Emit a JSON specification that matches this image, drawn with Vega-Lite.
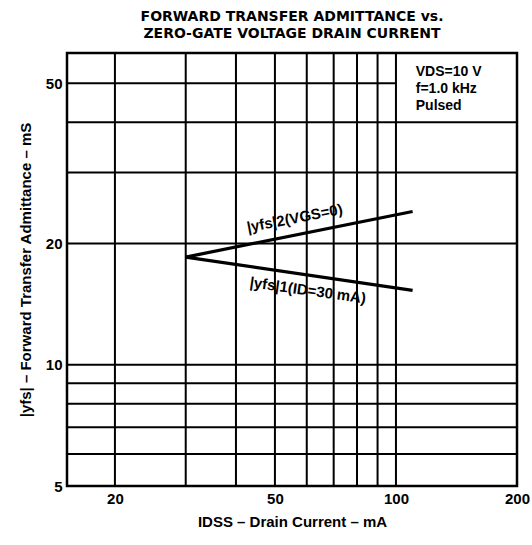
{
  "$schema": "https://vega.github.io/schema/vega-lite/v6.json",
  "autosize": "none",
  "width": 450,
  "height": 433,
  "padding": {"left": 67, "top": 53, "right": 15, "bottom": 59},
  "background": "white",
  "config": {
    "view": {"stroke": "black", "strokeWidth": 2.5},
    "font": "Liberation Sans"
  },
  "title": {
    "text": ["FORWARD TRANSFER ADMITTANCE vs.", "ZERO-GATE VOLTAGE DRAIN CURRENT"],
    "font": "DejaVu Sans",
    "fontSize": 14,
    "fontWeight": "bold",
    "lineHeight": 17,
    "anchor": "middle",
    "offset": 11,
    "color": "black"
  },
  "datasets": {
    "vgrid": [{"x": 20}, {"x": 30}, {"x": 40}, {"x": 50}, {"x": 60}, {"x": 70}, {"x": 80}, {"x": 90}, {"x": 100}],
    "hgrid": [{"y": 6}, {"y": 7}, {"y": 8}, {"y": 9}, {"y": 10}, {"y": 20}, {"y": 30}, {"y": 40}],
    "hshort": [{"y": 50, "x": 15.2, "x2": 100}],
    "curves": [
      {"series": "yfs2", "x": 30, "y": 18.5},
      {"series": "yfs2", "x": 110, "y": 24},
      {"series": "yfs1", "x": 30, "y": 18.5},
      {"series": "yfs1", "x": 110, "y": 15.3}
    ],
    "lab2": [{"x": 56, "y": 23.1, "text": "|yfs|2(VGS=0)"}],
    "lab1": [{"x": 60.4, "y": 15.3, "text": "|yfs|1(ID=30 mA)"}],
    "cond": [{"x": 112, "y": 55.6, "text": "VDS=10 V|f=1.0 kHz|Pulsed"}]
  },
  "layer": [
    {
      "data": {"name": "vgrid"},
      "mark": {"type": "rule", "color": "black", "strokeWidth": 2},
      "encoding": {
        "x": {
          "field": "x", "type": "quantitative",
          "scale": {"type": "log", "domain": [15.2, 200], "nice": false},
          "axis": {
            "values": [20, 50, 100, 200],
            "title": "IDSS – Drain Current – mA",
            "grid": false, "ticks": false, "domain": false,
            "labelFontSize": 15, "labelFontWeight": "bold", "labelColor": "black",
            "labelPadding": 5, "labelFlush": false,
            "titleFontSize": 15, "titleFontWeight": "bold", "titleColor": "black",
            "titlePadding": 8
          }
        }
      }
    },
    {
      "data": {"name": "hgrid"},
      "mark": {"type": "rule", "color": "black", "strokeWidth": 2},
      "encoding": {
        "y": {
          "field": "y", "type": "quantitative",
          "scale": {"type": "log", "domain": [5, 59.4], "nice": false},
          "axis": {
            "values": [5, 10, 20, 50],
            "title": "|yfs| – Forward Transfer Admittance – mS",
            "grid": false, "ticks": false, "domain": false,
            "labelFontSize": 15, "labelFontWeight": "bold", "labelColor": "black",
            "labelPadding": 5, "labelFlush": false,
            "titleFontSize": 15, "titleFontWeight": "bold", "titleColor": "black",
            "titlePadding": 12
          }
        }
      }
    },
    {
      "data": {"name": "hshort"},
      "mark": {"type": "rule", "color": "black", "strokeWidth": 2},
      "encoding": {
        "y": {"field": "y", "type": "quantitative"},
        "x": {"field": "x", "type": "quantitative"},
        "x2": {"field": "x2"}
      }
    },
    {
      "data": {"name": "curves"},
      "mark": {"type": "line", "color": "black", "strokeWidth": 3.2},
      "encoding": {
        "x": {"field": "x", "type": "quantitative"},
        "y": {"field": "y", "type": "quantitative"},
        "detail": {"field": "series"}
      }
    },
    {
      "data": {"name": "lab2"},
      "mark": {"type": "text", "angle": -11, "fontSize": 15, "fontWeight": "bold", "color": "black", "align": "center", "baseline": "middle"},
      "encoding": {
        "x": {"field": "x", "type": "quantitative"},
        "y": {"field": "y", "type": "quantitative"},
        "text": {"field": "text"}
      }
    },
    {
      "data": {"name": "lab1"},
      "mark": {"type": "text", "angle": 8, "fontSize": 15, "fontWeight": "bold", "color": "black", "align": "center", "baseline": "middle"},
      "encoding": {
        "x": {"field": "x", "type": "quantitative"},
        "y": {"field": "y", "type": "quantitative"},
        "text": {"field": "text"}
      }
    },
    {
      "data": {"name": "cond"},
      "mark": {"type": "text", "fontSize": 14, "fontWeight": "bold", "color": "black", "align": "left", "baseline": "top", "lineBreak": "|", "lineHeight": 17},
      "encoding": {
        "x": {"field": "x", "type": "quantitative"},
        "y": {"field": "y", "type": "quantitative"},
        "text": {"field": "text"}
      }
    }
  ]
}
